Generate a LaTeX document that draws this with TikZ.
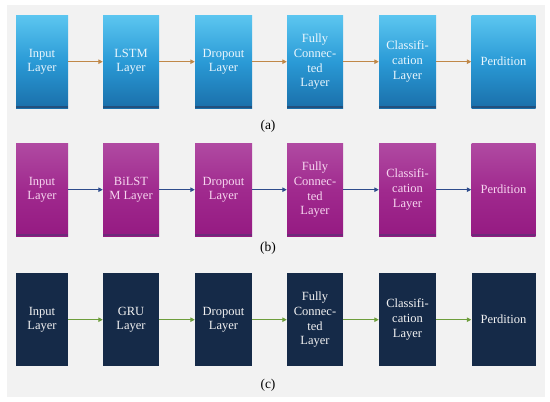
\documentclass[tikz,border=0pt]{standalone}
\usepackage{fontspec}
\setmainfont{Liberation Serif}
\usetikzlibrary{arrows.meta}
\definecolor{bgray}{HTML}{F2F2F2}
\definecolor{atop}{HTML}{5CC6F0}
\definecolor{amid}{HTML}{2A9AD6}
\definecolor{abot}{HTML}{1A6FAA}
\definecolor{aedge}{HTML}{22507E}
\definecolor{btop}{HTML}{B04AA2}
\definecolor{bmid}{HTML}{A02A8E}
\definecolor{bbot}{HTML}{951A82}
\definecolor{bedge}{HTML}{6E2A7A}
\definecolor{cbox}{HTML}{152A48}
\definecolor{aarrow}{HTML}{C08848}
\definecolor{barrow}{HTML}{2E4C8C}
\definecolor{carrow}{HTML}{6E9E3C}
\definecolor{atext}{HTML}{EAF6FD}
\definecolor{btext}{HTML}{F7D6F0}
\definecolor{ctext}{HTML}{F2F2F2}
\tikzset{
  layerbox/.style={rectangle, inner sep=0pt, align=center, anchor=north,
    minimum height=93pt, font=\fontsize{12.5}{14.8}\selectfont},
  boxa/.style={layerbox, top color=atop, bottom color=abot, middle color=amid, text=atext,
    path picture={\fill[aedge] ([yshift=2.5pt]path picture bounding box.south west) rectangle (path picture bounding box.south east);}},
  boxb/.style={layerbox, top color=btop, bottom color=bbot, middle color=bmid, text=btext,
    path picture={\fill[bedge] ([yshift=2pt]path picture bounding box.south west) rectangle (path picture bounding box.south east);}},
  boxc/.style={layerbox, fill=cbox, text=ctext},
  conn/.style={line width=1pt, -{Triangle[length=4.5pt,width=4.5pt]}},
  conna/.style={conn, draw=aarrow},
  connb/.style={conn, draw=barrow},
  connc/.style={conn, draw=carrow},
  sublabel/.style={font=\fontsize{13.5}{16}\selectfont, text=black}
}
\begin{document}
\begin{tikzpicture}[x=1pt,y=-1pt]
\useasboundingbox (0,0) rectangle (550,402);
\fill[white] (0,0) rectangle (550,402);
\fill[bgray] (7,5) rectangle (545,397);
% Row (a)
\node[boxa, minimum width=52pt] (a1) at (42,15) {Input\\Layer};
\node[boxa, minimum width=56pt] (a2) at (131,15) {LSTM\\Layer};
\node[boxa, minimum width=57pt] (a3) at (223.5,15) {Dropout\\Layer};
\node[boxa, minimum width=56pt] (a4) at (315,15) {Fully\\Connec-\\ted\\Layer};
\node[boxa, minimum width=57pt] (a5) at (407.5,15) {Classifi-\\cation\\Layer};
\node[boxa, minimum width=64pt] (a6) at (503.5,15) {Perdition};
\draw[conna] (a1) -- (a2);
\draw[conna] (a2) -- (a3);
\draw[conna] (a3) -- (a4);
\draw[conna] (a4) -- (a5);
\draw[conna] (a5) -- (a6);
\node[sublabel] (la) at (268,126) {(a)};
% Row (b)
\node[boxb, minimum width=52pt] (b1) at (42,143) {Input\\Layer};
\node[boxb, minimum width=56pt] (b2) at (131,143) {BiLST\\M Layer};
\node[boxb, minimum width=57pt] (b3) at (223.5,143) {Dropout\\Layer};
\node[boxb, minimum width=56pt] (b4) at (315,143) {Fully\\Connec-\\ted\\Layer};
\node[boxb, minimum width=57pt] (b5) at (407.5,143) {Classifi-\\cation\\Layer};
\node[boxb, minimum width=64pt] (b6) at (503.5,143) {Perdition};
\draw[connb] (b1) -- (b2);
\draw[connb] (b2) -- (b3);
\draw[connb] (b3) -- (b4);
\draw[connb] (b4) -- (b5);
\draw[connb] (b5) -- (b6);
\node[sublabel] (lb) at (268,248) {(b)};
% Row (c)
\node[boxc, minimum width=52pt] (c1) at (42,273) {Input\\Layer};
\node[boxc, minimum width=56pt] (c2) at (131,273) {GRU\\Layer};
\node[boxc, minimum width=57pt] (c3) at (223.5,273) {Dropout\\Layer};
\node[boxc, minimum width=56pt] (c4) at (315,273) {Fully\\Connec-\\ted\\Layer};
\node[boxc, minimum width=57pt] (c5) at (407.5,273) {Classifi-\\cation\\Layer};
\node[boxc, minimum width=64pt] (c6) at (503.5,273) {Perdition};
\draw[connc] (c1) -- (c2);
\draw[connc] (c2) -- (c3);
\draw[connc] (c3) -- (c4);
\draw[connc] (c4) -- (c5);
\draw[connc] (c5) -- (c6);
\node[sublabel] (lc) at (268,385) {(c)};
\end{tikzpicture}
\end{document}
